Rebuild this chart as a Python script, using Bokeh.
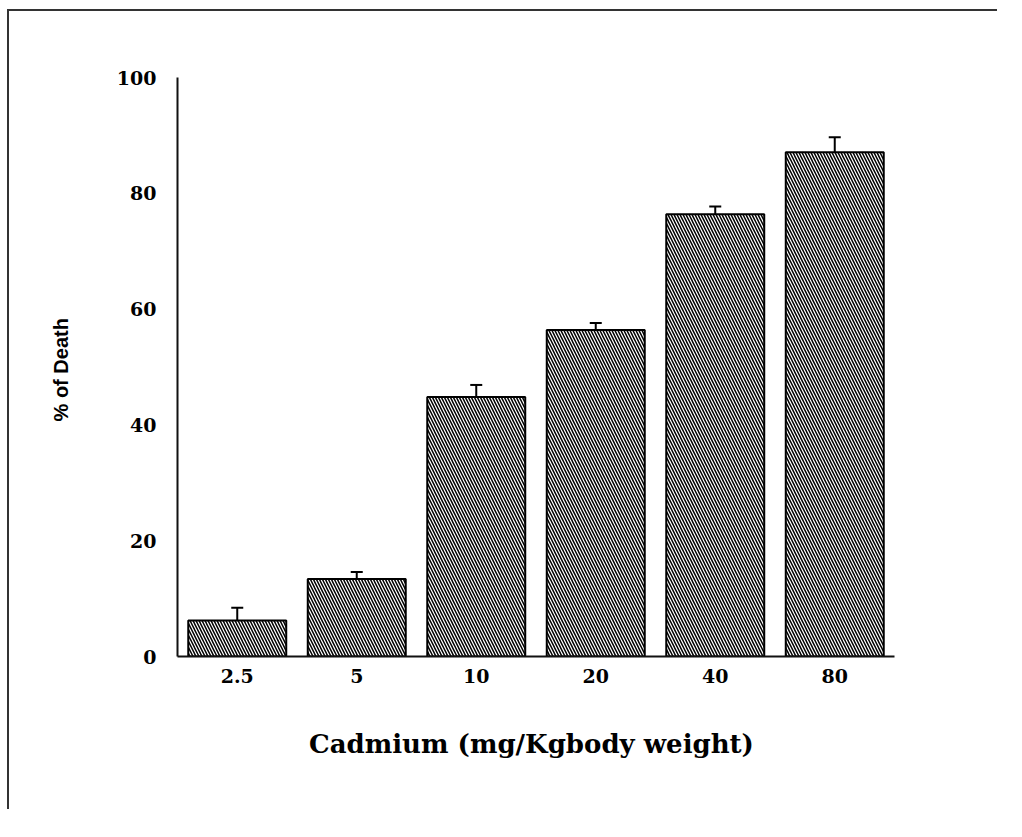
from bokeh.plotting import figure
from bokeh.models import FactorRange, Range1d, ColumnDataSource, Whisker, TeeHead
from bokeh.embed import file_html
from bokeh.resources import INLINE

# data
doses = ["2.5", "5", "10", "20", "40", "80"]
death_pct = [6.2, 13.4, 44.8, 56.4, 76.4, 87.1]
sem = [2.2, 1.2, 2.1, 1.2, 1.3, 2.6]
y_ticks = [0, 20, 40, 60, 80, 100]

upper = [v + e for v, e in zip(death_pct, sem)]
lower = [v - e for v, e in zip(death_pct, sem)]
src = ColumnDataSource(data=dict(dose=doses, death=death_pct, upper=upper, lower=lower))

p = figure(
    width=990, height=800,
    x_range=FactorRange(*doses, range_padding=0),
    y_range=Range1d(0, 100),
    output_backend="svg", toolbar_location=None,
    min_border_left=168, min_border_right=105, min_border_top=66, min_border_bottom=155,
)
# picture frame: left and top edges only (drawn as an offset shadow)
p.styles = {"box-shadow": "-2px -2px 0px 0px #333333",
            "margin-left": "9px", "margin-top": "11px"}
p.outline_line_color = None
p.xgrid.visible = False
p.ygrid.visible = False
p.background_fill_color = "white"
p.border_fill_color = "white"

p.vbar(x="dose", top="death", width=0.82, source=src,
       fill_color="white", line_color="black", line_width=2,
       hatch_pattern="\\", hatch_color="black", hatch_scale=6, hatch_weight=1.5)

w = Whisker(base="dose", upper="upper", lower="lower", source=src,
            line_color="black", line_width=2,
            upper_head=TeeHead(size=12, line_width=2, line_color="black"),
            lower_head=TeeHead(size=12, line_width=2, line_color="black"))
p.add_layout(w)

for ax in (p.xaxis[0], p.yaxis[0]):
    ax.axis_line_width = 2
    ax.axis_line_color = "#111111"
    ax.major_tick_line_color = None
    ax.minor_tick_line_color = None
    ax.major_label_text_font = "DejaVu Serif"
    ax.major_label_text_font_style = "bold"
    ax.major_label_text_font_size = "19px"
    ax.major_label_text_color = "black"
    ax.axis_label_text_color = "black"

p.yaxis.ticker = y_ticks
p.yaxis.major_label_standoff = 15
p.yaxis.axis_label = "%  of Death"
p.yaxis.axis_label_text_font = "Liberation Sans"
p.yaxis.axis_label_text_font_style = "bold"
p.yaxis.axis_label_text_font_size = "20px"
p.yaxis.axis_label_standoff = 42

p.xaxis.major_label_standoff = 6
p.xaxis.axis_label = "Cadmium  (mg/Kgbody weight)"
p.xaxis.axis_label_text_font = "DejaVu Serif"
p.xaxis.axis_label_text_font_style = "bold"
p.xaxis.axis_label_text_font_size = "26px"
p.xaxis.axis_label_standoff = 43

open("out.html", "w").write(file_html(p, INLINE))
